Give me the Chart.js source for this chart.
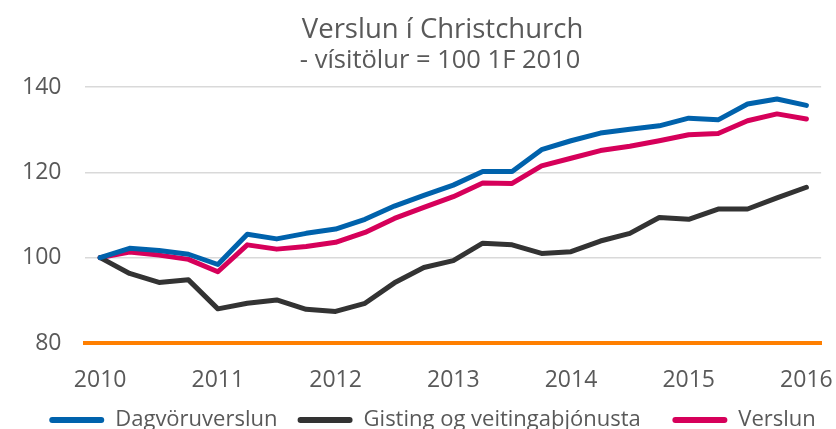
<!DOCTYPE html>
<html>
<head>
<meta charset="utf-8">
<script src="https://cdn.jsdelivr.net/npm/chart.js@4"></script>
<style>
  html, body { margin: 0; padding: 0; background: #fff; }
  #wrap { width: 836px; height: 429px; }
</style>
</head>
<body>
<div id="wrap"><canvas id="verslun-grafica" width="836" height="429"></canvas></div>
<script>
// ársfjórðungar 2010F1 - 2016F1
const fjordungar = [
  '2010', '2010F2', '2010F3', '2010F4',
  '2011', '2011F2', '2011F3', '2011F4',
  '2012', '2012F2', '2012F3', '2012F4',
  '2013', '2013F2', '2013F3', '2013F4',
  '2014', '2014F2', '2014F3', '2014F4',
  '2015', '2015F2', '2015F3', '2015F4',
  '2016'
];

const dagvoruverslun = [
  100, 102.2, 101.7, 100.8, 98.4, 105.5, 104.4, 105.7, 106.7, 109.0, 112.1, 114.6,
  117.0, 120.2, 120.2, 125.3, 127.4, 129.2, 130.1, 130.9, 132.7, 132.3, 136.0, 137.2, 135.7
];

const gisting = [
  100, 96.3, 94.2, 94.8, 88.0, 89.3, 90.1, 87.9, 87.4, 89.3, 94.1, 97.7,
  99.3, 103.4, 103.0, 101.0, 101.4, 103.9, 105.7, 109.4, 109.0, 111.4, 111.4, 114.0, 116.5
];

const verslun = [
  100, 101.3, 100.6, 99.6, 96.7, 103.0, 102.0, 102.6, 103.6, 105.9, 109.2, 111.8,
  114.3, 117.5, 117.4, 121.5, 123.3, 125.1, 126.1, 127.4, 128.8, 129.1, 132.1, 133.7, 132.5
];

const ytaMerki = [80, 100, 120, 140];

const letur = "'Open Sans', sans-serif";
const grar = '#595959';

(function () {
  const grafica = document.getElementById('verslun-grafica');

  function lina(nafn, gogn, litur) {
    return {
      label: nafn,
      data: gogn,
      borderColor: litur,
      backgroundColor: litur,
      borderWidth: 5,
      pointRadius: 0,
      tension: 0,
      borderCapStyle: 'round',
      borderJoinStyle: 'round'
    };
  }

  // bil á eftir hverju heiti í skýringunni
  const bil = ['   ', '     ', '   '];

  new Chart(grafica, {
    type: 'line',
    data: {
      labels: fjordungar,
      datasets: [
        lina('Dagvöruverslun', dagvoruverslun, '#0062ac'),
        lina('Gisting og veitingaþjónusta', gisting, '#333333'),
        lina('Verslun', verslun, '#d6005a')
      ]
    },
    options: {
      responsive: false,
      animation: false,
      layout: { padding: { left: -2, right: 0, top: 0, bottom: -12 } },
      scales: {
        x: {
          offset: true,
          grid: { display: false, drawTicks: false },
          border: { color: '#ff7f00', width: 4 },
          afterFit: function (ax) {
            ax.height = 63; // ártölin ná aðeins niður fyrir ásinn
          },
          ticks: {
            autoSkip: false,
            maxRotation: 0,
            padding: 3,
            color: grar,
            font: { family: letur, size: 23, lineHeight: 2.96 },
            callback: function (v, i) {
              const t = fjordungar[i];
              return t.length === 4 ? t : null;
            }
          }
        },
        y: {
          min: 80,
          max: 140,
          afterBuildTicks: function (ax) {
            ax.ticks = ytaMerki.map(v => ({ value: v }));
          },
          grid: { color: '#d9d9d9', lineWidth: 1.5, drawTicks: false },
          border: { display: false },
          ticks: {
            padding: 24,
            color: grar,
            font: { family: letur, size: 23 }
          }
        }
      },
      plugins: {
        title: {
          display: true,
          fullSize: false,
          text: 'Verslun í Christchurch   ',
          color: grar,
          font: { family: letur, size: 27.5, weight: 'normal', lineHeight: 1 },
          padding: { top: 16, bottom: 0 }
        },
        subtitle: {
          display: true,
          fullSize: false,
          text: '- vísitölur = 100 1F 2010    ',
          color: grar,
          font: { family: letur, size: 25.5, weight: 'normal', lineHeight: 1 },
          padding: { top: 4.5, bottom: 13.5 }
        },
        legend: {
          position: 'bottom',
          align: 'end',
          labels: {
            color: grar,
            font: { family: letur, size: 22 },
            boxWidth: 55,
            boxHeight: 6,
            useBorderRadius: true,
            borderRadius: 3,
            padding: 3,
            generateLabels: function (chart) {
              const merki = Chart.defaults.plugins.legend.labels.generateLabels(chart);
              merki.forEach((m, i) => {
                m.lineWidth = 0;
                m.text = m.text + bil[i];
              });
              return merki;
            }
          }
        },
        tooltip: { enabled: false }
      }
    }
  });
})();
</script>
</body>
</html>
